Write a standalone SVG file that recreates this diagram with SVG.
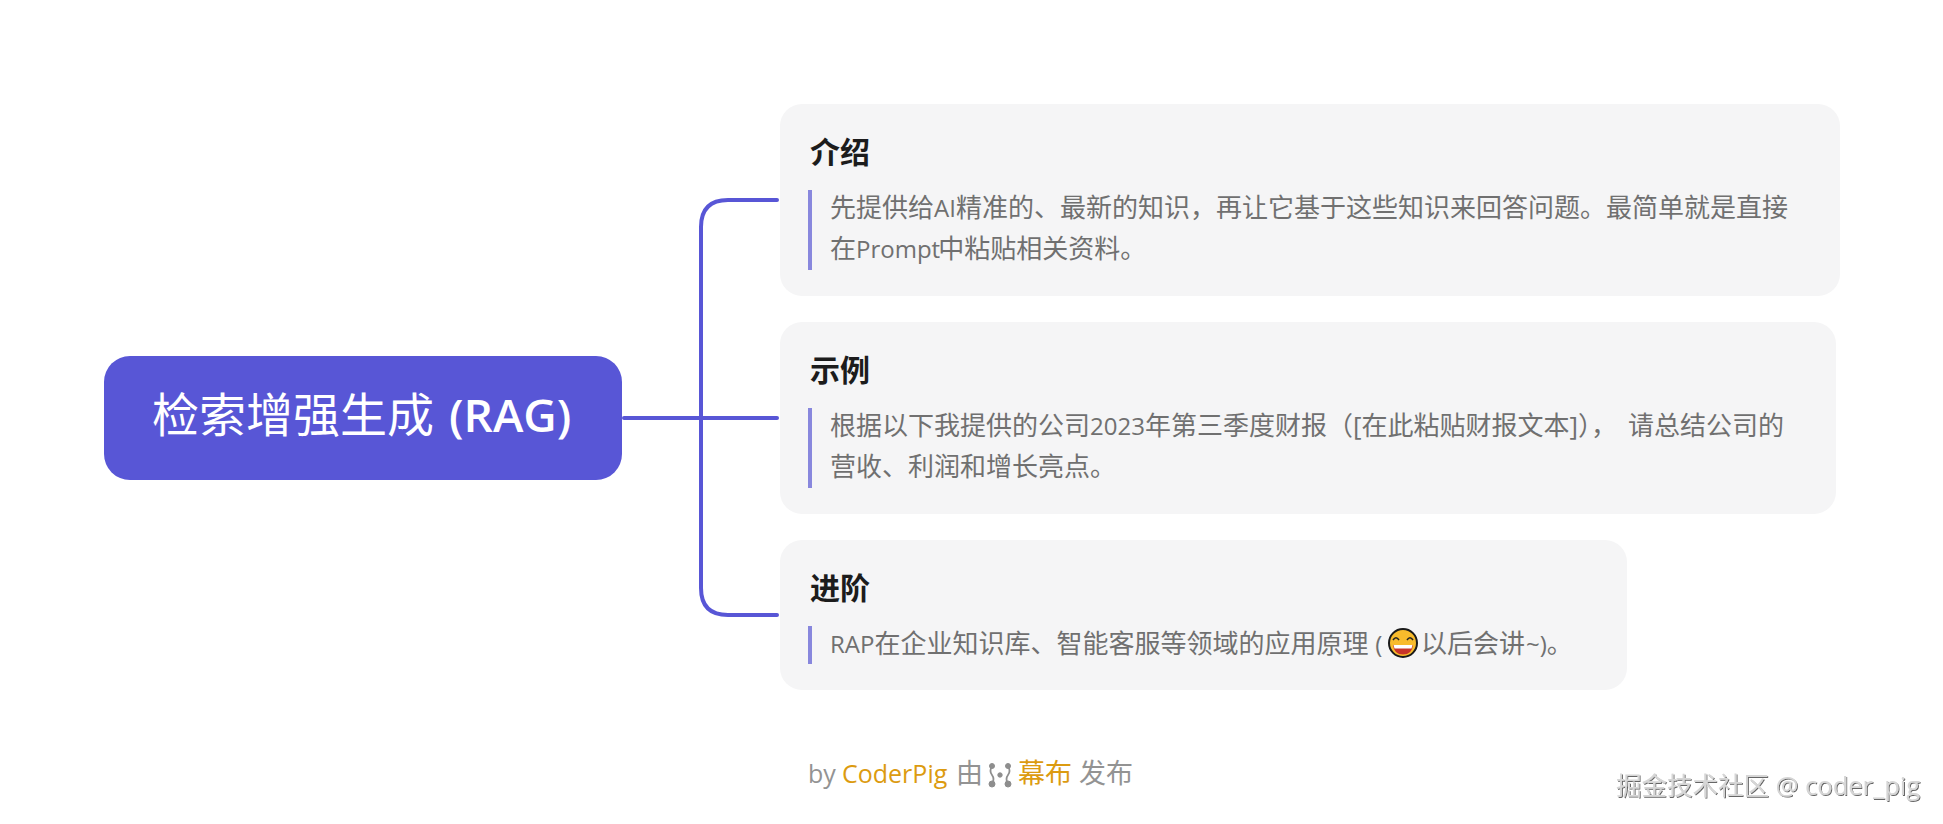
<svg xmlns="http://www.w3.org/2000/svg" width="1943" height="824" viewBox="0 0 1943 824">
<defs>
<style>
text{font-family:"Open Sans","Noto Sans CJK SC",sans-serif;white-space:pre}
.card{fill:#f5f5f6}
.bar{fill:#8887dd}
.title{font-size:30px;font-weight:700;fill:#1c1c1c}
.body{font-size:26px;fill:#707070}
.lat{font-size:24px}
.conn{fill:none;stroke:#5856d6;stroke-width:4;stroke-linecap:round}
.foot{font-size:27px;fill:#939393}
.foot-lat{font-size:25px;fill:#939393}
.gold{fill:#dc9b10}
.ic{fill:#8e8e8e;stroke:#8e8e8e}
</style>
<filter id="emb" x="-5%" y="-20%" width="110%" height="140%"><feDropShadow dx="1" dy="1" stdDeviation="0.6" flood-color="#000" flood-opacity="0.6"/></filter>
</defs>
<rect width="1943" height="824" fill="#fff"/>
<g id="connectors">
<path class="conn" d="M624 418H777"/>
<path class="conn" d="M777 200H728Q701 200 701 227V588Q701 615 728 615H777"/>
</g>
<g id="root">
<rect x="104" y="356" width="518" height="124" rx="26" fill="#5856d6"/>
<text x="152" y="432" font-size="47" fill="#fff">检索增强生成</text>
<text x="449" y="432" font-size="46" font-weight="600" fill="#fff">(RAG)</text>
</g>
<g id="node-intro">
<rect class="card" x="780" y="104" width="1060" height="192" rx="22"/>
<text class="title" x="810" y="163">介绍</text>
<rect class="bar" x="808" y="190" width="4" height="80"/>
<text class="body" x="830" y="217">先提供给<tspan class="lat">AI</tspan>精准的、最新的知识，再让它基于这些知识来回答问题。最简单就是直接</text>
<text class="body" x="830" y="258">在<tspan class="lat">Prompt</tspan><tspan dx="-2">中粘贴相关资料。</tspan></text>
</g>
<g id="node-example">
<rect class="card" x="780" y="322" width="1056" height="192" rx="22"/>
<text class="title" x="810" y="381">示例</text>
<rect class="bar" x="808" y="408" width="4" height="80"/>
<text class="body" x="830" y="435">根据以下我提供的公司<tspan class="lat">2023</tspan>年第三季度财报（[在此粘贴财报文本]），<tspan dx="11">请总结公司的</tspan></text>
<text class="body" x="830" y="476">营收、利润和增长亮点。</text>
</g>
<g id="node-advanced">
<rect class="card" x="780" y="540" width="847" height="150" rx="22"/>
<text class="title" x="810" y="599">进阶</text>
<rect class="bar" x="808" y="626" width="4" height="38"/>
<text class="body" x="830" y="653"><tspan class="lat">RAP</tspan>在企业知识库、智能客服等领域的应用原理 <tspan class="lat">(</tspan></text>
<g id="emoji">
<circle cx="1403" cy="643" r="14" fill="#f8bb2c" stroke="#1a1a1a" stroke-width="2"/>
<path d="M1393 640q3-4.500 6 0M1407 640q3-4.500 6 0" fill="none" stroke="#222" stroke-width="1.500"/>
<path d="M1393 645H1413Q1412 654.500 1403 654.500T1393 645Z" fill="#c8342a"/>
<path d="M1393.500 645H1412.500L1411.500 648.500H1394.500Z" fill="#fff"/>
</g>
<text class="body" x="1421" y="653">以后会讲<tspan class="lat" dx="1">~)</tspan>。</text>
</g>
<g id="footer">
<text class="foot-lat" x="808" y="783">by</text>
<text class="foot-lat gold" x="842" y="783">CoderPig</text>
<text class="foot" x="956" y="783">由</text>
<g id="mubu-icon" class="ic">
<path d="M992 766Q989 771 992 775T992 784" fill="none" stroke-width="1.800"/>
<circle cx="992" cy="766" r="2.500"/><circle cx="992" cy="784" r="3"/>
<circle cx="1000" cy="775" r="2.200"/>
<path d="M1008 766Q1011 771 1008 775T1008 784" fill="none" stroke-width="1.800"/>
<circle cx="1008" cy="766" r="2.500"/><circle cx="1008" cy="784" r="3"/>
</g>
<text class="foot gold" x="1018" y="783">幕布</text>
<text class="foot" x="1079" y="783">发布</text>
</g>
<g id="watermark">
<text x="1616" y="795" font-size="25.500" fill="#d6d6d6" filter="url(#emb)" font-family="Noto Sans CJK SC">掘金技术社区 @ coder_pig</text>
</g>
</svg>
